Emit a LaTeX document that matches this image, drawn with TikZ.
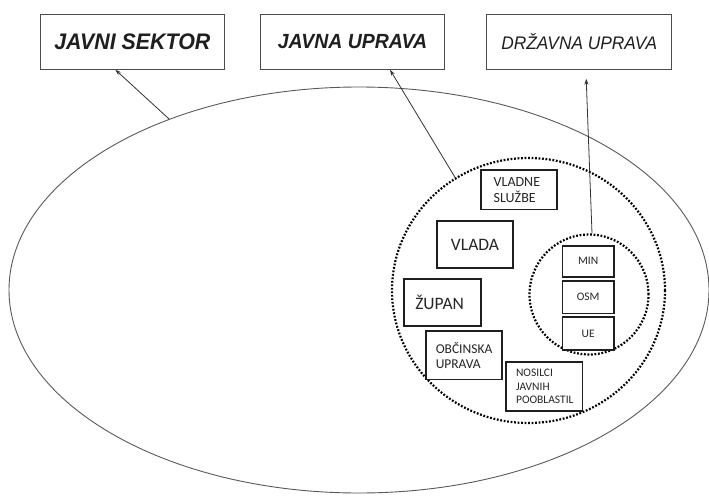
\documentclass[tikz,border=0pt]{standalone}
\usepackage{fontspec}
\setmainfont{Carlito}
\newfontfamily\headfont{Liberation Sans}[FakeStretch=0.95]
\usetikzlibrary{shapes.geometric,arrows.meta}
\begin{document}
\begin{tikzpicture}[x=1pt,y=-1pt,
  headbox/.style={draw=black!70, line width=0.9pt, fill=white, inner sep=0pt,
    minimum width=#1, minimum height=55.3pt},
  headtext/.style={font=\headfont\bfseries\itshape\fontsize{#1}{#1}\selectfont, text=black!88},
  unitbox/.style={draw=black!88, line width=1.7pt, fill=white, inner sep=0pt,
    text=black!85},
  lefttext/.style={align=left, inner xsep=#1, inner ysep=0pt},
  ring/.style={draw=black, line width=2.2pt, dash pattern=on 1.8pt off 1.7pt,
    ellipse, inner sep=0pt},
  arr/.style={draw=black!80, line width=0.8pt, -{Stealth[length=6pt,width=4pt]}}
]
\useasboundingbox (0,0) rectangle (709,495);

% outer ellipse: the whole public sector
\node[draw=black!65, line width=0.9pt, ellipse, inner sep=0pt,
      minimum width=700pt, minimum height=406pt] (sector) at (359,290) {};

% dotted rings: public administration and state administration
\node[ring, minimum width=273pt, minimum height=265pt] (dotbig) at (528.5,290.5) {};
\node[ring, minimum width=119pt, minimum height=120pt] (dotsmall) at (589,294.5) {};

% heading boxes
\node[headbox=183.3pt, headtext=22.5] (sektor) at (132.35,41.65) {JAVNI SEKTOR};
\node[headbox=183.6pt, headtext=20.5] (javna) at (352.5,41.65) {JAVNA UPRAVA};
\node[headbox=185pt, font=\headfont\itshape\fontsize{18.2}{18.2}\selectfont, text=black!88]
      (drzavna) at (579.2,41.65) {DRŽAVNA UPRAVA};

% connectors to the headings
\draw[arr] (sector.138) -- ([xshift=-17pt]sektor.south);
\draw[arr] (dotbig.123) -- ([xshift=37.5pt]javna.south);
\draw[arr] ([xshift=3pt]dotsmall.north) -- ([xshift=7pt,yshift=-9pt]drzavna.south);

% units inside public administration
\node[unitbox, lefttext=13pt, text width=50pt, minimum height=39.3pt,
      font=\fontsize{14}{16}\selectfont] (sluzbe) at (518.7,189.7) {VLADNE\\SLUŽBE};
\node[unitbox, minimum width=76.6pt, minimum height=47.6pt,
      font=\fontsize{17.5}{17.5}\selectfont] (vlada) at (475,244.5) {VLADA};
\node[unitbox, lefttext=11pt, text width=54.4pt, minimum height=47pt,
      font=\fontsize{17.5}{17.5}\selectfont] (zupan) at (442.5,302.5) {ŽUPAN};
\node[unitbox, lefttext=10pt, text width=56.3pt, minimum height=48.3pt,
      font=\fontsize{13.5}{15}\selectfont] (obcina) at (463.9,355.2) {OBČINSKA\\UPRAVA};
\node[unitbox, lefttext=10pt, text width=56.3pt, minimum height=48.4pt,
      font=\fontsize{11.5}{13.3}\selectfont] (nosilci) at (544.2,386.5) {NOSILCI\\JAVNIH\\POOBLASTIL};

% units inside state administration
\node[unitbox, minimum width=51.7pt, minimum height=31pt,
      font=\fontsize{11.5}{11.5}\selectfont] (min) at (588.2,261.2) {MIN};
\node[unitbox, minimum width=51.7pt, minimum height=32.3pt,
      font=\fontsize{11.5}{11.5}\selectfont] (osm) at (588.2,297.2) {OSM};
\node[unitbox, minimum width=51.7pt, minimum height=33.3pt,
      font=\fontsize{11.5}{11.5}\selectfont] (ue) at (588.2,333.4) {UE};
\end{tikzpicture}
\end{document}
